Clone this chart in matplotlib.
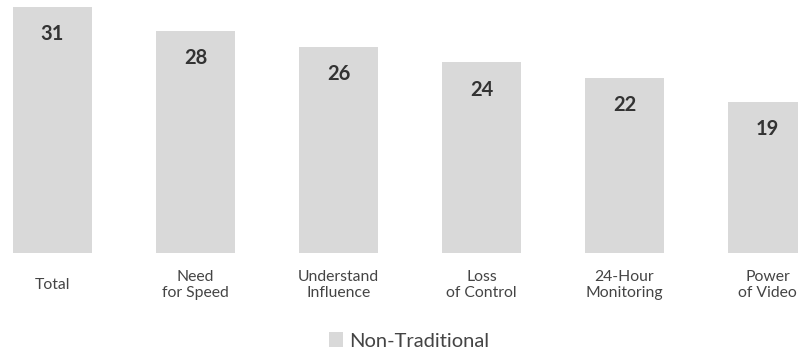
import matplotlib.pyplot as plt

# Data
categories = ['Total', 'Need\nfor Speed', 'Understand\nInfluence',
              'Loss\nof Control', '24-Hour\nMonitoring', 'Power\nof Video']
values = [31, 28, 26, 24, 22, 19]
series_name = 'Non-Traditional'

plt.rcParams['font.family'] = ['Lato', 'DejaVu Sans']

fig = plt.figure(figsize=(7.98, 3.54), dpi=100)
ax = fig.add_axes([0, 0.2853, 1, 0.7147])

xs = list(range(len(values)))
bars = ax.bar(xs, values, width=0.552, color='#d9d9d9', label=series_name)

# value labels inside the top of each bar
for x, v in zip(xs, values):
    ax.annotate(str(v), (x, v), xytext=(0, -19.5), textcoords='offset points',
                ha='center', va='center', fontsize=14.5, fontweight='bold',
                color='#333333')

ax.set_xlim(-0.367, 5.213)
ax.set_ylim(0, 31.86)

ax.set_xticks(xs)
ax.set_xticklabels(categories, fontsize=11.3, color='#444444', linespacing=1.2)
ax.tick_params(axis='x', length=0, pad=23)
for lbl in ax.get_xticklabels():
    lbl.set_verticalalignment('center')
ax.set_yticks([])
for s in ax.spines.values():
    s.set_visible(False)

leg = ax.legend(handles=[bars], loc='center', bbox_to_anchor=(409 / 798, 0.0367),
                bbox_transform=fig.transFigure, frameon=False, fontsize=14.5,
                handlelength=0.7, handleheight=0.7, handletextpad=0.3,
                borderpad=0)
for t in leg.get_texts():
    t.set_color('#444444')

fig.savefig('out.png', dpi=100)
